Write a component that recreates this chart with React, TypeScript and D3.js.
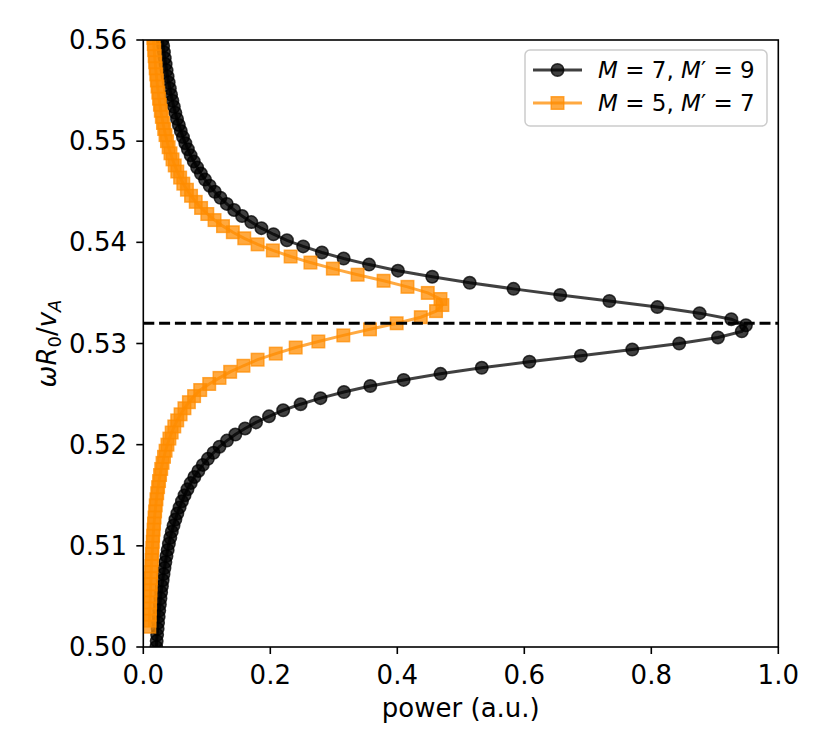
import React from "react";
import * as d3 from "d3";

// ---- data ----
const blackOmega = [
  0.5000,0.5006,0.5012,0.5018,0.5024,0.5030,0.5036,0.5042,0.5048,0.5054,
  0.5060,0.5066,0.5072,0.5078,0.5084,0.5090,0.5096,0.5102,0.5108,0.5114,
  0.5120,0.5126,0.5132,0.5138,0.5144,0.5150,0.5156,0.5162,0.5168,0.5174,
  0.5180,0.5186,0.5192,0.5198,0.5204,0.5210,0.5216,0.5222,0.5228,0.5234,
  0.5240,0.5246,0.5252,0.5258,0.5264,0.5270,0.5276,0.5282,0.5288,0.5294,
  0.5300,0.5306,0.5312,0.5318,0.5324,0.5330,0.5336,0.5342,0.5348,0.5354,
  0.5360,0.5366,0.5372,0.5378,0.5384,0.5390,0.5396,0.5402,0.5408,0.5414,
  0.5420,0.5426,0.5432,0.5438,0.5444,0.5450,0.5456,0.5462,0.5468,0.5474,
  0.5480,0.5486,0.5492,0.5498,0.5504,0.5510,0.5516,0.5522,0.5528,0.5534,
  0.5540,0.5546,0.5552,0.5558,0.5564,0.5570,0.5576,0.5582,0.5588,0.5594,
  0.5600,
];
const blackPower = [
  0.0205,0.0211,0.0218,0.0226,0.0233,0.0242,0.0251,0.0261,0.0270,0.0281,
  0.0293,0.0305,0.0318,0.0333,0.0348,0.0365,0.0384,0.0403,0.0425,0.0449,
  0.0476,0.0505,0.0536,0.0571,0.0609,0.0650,0.0696,0.0747,0.0804,0.0867,
  0.0937,0.1017,0.1106,0.1200,0.1318,0.1449,0.1602,0.1775,0.1980,0.2203,
  0.2478,0.2790,0.3160,0.3575,0.4100,0.4680,0.5330,0.6080,0.6890,0.7700,
  0.8440,0.9050,0.9425,0.9490,0.9260,0.8760,0.8095,0.7340,0.6565,0.5830,
  0.5140,0.4550,0.4010,0.3555,0.3155,0.2813,0.2518,0.2262,0.2050,0.1860,
  0.1700,0.1555,0.1430,0.1315,0.1215,0.1125,0.1045,0.0972,0.0907,0.0848,
  0.0795,0.0746,0.0702,0.0662,0.0625,0.0591,0.0560,0.0531,0.0505,0.0481,
  0.0458,0.0437,0.0418,0.0400,0.0383,0.0367,0.0352,0.0338,0.0325,0.0313,
  0.0302,
];
const orangeOmega = [
  0.5020,0.5026,0.5032,0.5038,0.5044,0.5050,0.5056,0.5062,0.5068,0.5074,
  0.5080,0.5086,0.5092,0.5098,0.5104,0.5110,0.5116,0.5122,0.5128,0.5134,
  0.5140,0.5146,0.5152,0.5158,0.5164,0.5170,0.5176,0.5182,0.5188,0.5194,
  0.5200,0.5206,0.5212,0.5218,0.5224,0.5230,0.5236,0.5242,0.5248,0.5254,
  0.5260,0.5266,0.5272,0.5278,0.5284,0.5290,0.5296,0.5302,0.5308,0.5314,
  0.5320,0.5326,0.5332,0.5338,0.5344,0.5350,0.5356,0.5362,0.5368,0.5374,
  0.5380,0.5386,0.5392,0.5398,0.5404,0.5410,0.5416,0.5422,0.5428,0.5434,
  0.5440,0.5446,0.5452,0.5458,0.5464,0.5470,0.5476,0.5482,0.5488,0.5494,
  0.5500,0.5506,0.5512,0.5518,0.5524,0.5530,0.5536,0.5542,0.5548,0.5554,
  0.5560,0.5566,0.5572,0.5578,0.5584,0.5590,0.5596,0.5602,
];
const orangePower = [
  0.0095,0.0098,0.0101,0.0104,0.0107,0.0110,0.0113,0.0117,0.0121,0.0125,
  0.0129,0.0133,0.0138,0.0143,0.0149,0.0155,0.0162,0.0169,0.0177,0.0186,
  0.0196,0.0207,0.0219,0.0233,0.0248,0.0264,0.0282,0.0303,0.0326,0.0351,
  0.0380,0.0411,0.0447,0.0488,0.0534,0.0587,0.0648,0.0718,0.0800,0.0896,
  0.1038,0.1200,0.1368,0.1577,0.1800,0.2086,0.2400,0.2757,0.3150,0.3570,
  0.3990,0.4370,0.4610,0.4710,0.4680,0.4480,0.4160,0.3784,0.3375,0.2985,
  0.2632,0.2320,0.2040,0.1800,0.1590,0.1410,0.1255,0.1122,0.1008,0.0910,
  0.0826,0.0752,0.0687,0.0630,0.0580,0.0535,0.0495,0.0460,0.0428,0.0399,
  0.0373,0.0350,0.0329,0.0310,0.0292,0.0276,0.0262,0.0248,0.0236,0.0224,
  0.0214,0.0204,0.0195,0.0187,0.0179,0.0172,0.0165,0.0159,
];
const xTicks = [0.0, 0.2, 0.4, 0.6, 0.8, 1.0];
const yTicks = [0.50, 0.51, 0.52, 0.53, 0.54, 0.55, 0.56];
const resonance = 0.532;

// ---- layout ----
const W = 830, H = 755;
const L = 143.3, R = 778.3, T = 40, B = 647;
const FONT = "DejaVu Sans, sans-serif";

export default function App() {
  const x = d3.scaleLinear().domain([0, 1]).range([L, R]);
  const y = d3.scaleLinear().domain([0.5, 0.56]).range([B, T]);

  const black = blackOmega.map((w, i) => [blackPower[i], w] as [number, number]);
  const orange = orangeOmega.map((w, i) => [orangePower[i], w] as [number, number]);
  const line = d3.line<[number, number]>().x(d => x(d[0])).y(d => y(d[1]));

  const blackCol = "#000000";
  const orangeCol = "#ff8c00";
  const alphaB = 0.75;
  const alphaO = 0.75;
  const ms = 14;
  const sw = 1.5;
  const inner = ms - sw;

  return (
    <svg width={W} height={H} style={{ position: "absolute", left: 0, top: 0, background: "#fff" }}
      fontFamily={FONT}>
      <defs>
        <clipPath id="plotclip">
          <rect x={L} y={T} width={R - L} height={B - T} />
        </clipPath>
      </defs>
      <rect x={0} y={0} width={W} height={H} fill="#fff" />
      <g clipPath="url(#plotclip)">
        <path d={line(black) || ""} fill="none" stroke={blackCol} strokeOpacity={alphaB} strokeWidth={3} />
        {black.map((d, i) => (
          <circle key={"b" + i} cx={x(d[0])} cy={y(d[1])} r={inner / 2}
            fill={blackCol} fillOpacity={alphaB} stroke={blackCol} strokeOpacity={alphaB} strokeWidth={sw} />
        ))}
        <path d={line(orange) || ""} fill="none" stroke={orangeCol} strokeOpacity={alphaO} strokeWidth={3} />
        {orange.map((d, i) => (
          <rect key={"o" + i} x={x(d[0]) - inner / 2} y={y(d[1]) - inner / 2}
            width={inner} height={inner}
            fill={orangeCol} fillOpacity={alphaO} stroke={orangeCol} strokeOpacity={alphaO} strokeWidth={sw} />
        ))}
        <line x1={L} x2={R} y1={y(resonance)} y2={y(resonance)} stroke="#000" strokeWidth={3}
          strokeDasharray="11,4.8" />
      </g>

      {/* frame */}
      <rect x={L} y={T} width={R - L} height={B - T} fill="none" stroke="#000" strokeWidth={1.6} />

      {/* x ticks */}
      {xTicks.map(t => (
        <g key={"xt" + t}>
          <line x1={x(t)} x2={x(t)} y1={B} y2={B + 7} stroke="#000" strokeWidth={1.6} />
          <text x={x(t)} y={684} textAnchor="middle" fontSize={26}>{t.toFixed(1)}</text>
        </g>
      ))}
      {/* y ticks */}
      {yTicks.map(t => (
        <g key={"yt" + t}>
          <line x1={L - 7} x2={L} y1={y(t)} y2={y(t)} stroke="#000" strokeWidth={1.6} />
          <text x={127} y={y(t)} textAnchor="end" dominantBaseline="central" fontSize={26}>{t.toFixed(2)}</text>
        </g>
      ))}

      {/* axis labels */}
      <text x={(L + R) / 2} y={717} textAnchor="middle" fontSize={26}>power (a.u.)</text>
      <text transform={`translate(56, ${(T + B) / 2}) rotate(-90)`} textAnchor="middle" fontSize={26}>
        <tspan fontStyle="italic">ω</tspan>
        <tspan fontStyle="italic">R</tspan>
        <tspan fontSize={18} dy={5}>0</tspan>
        <tspan dy={-5}>/</tspan>
        <tspan fontStyle="italic">v</tspan>
        <tspan fontStyle="italic" fontSize={18} dy={5}>A</tspan>
      </text>

      {/* legend */}
      <g>
        <rect x={525} y={50} width={242} height={76} rx={5} ry={5} fill="#fff" fillOpacity={0.8}
          stroke="#cccccc" strokeWidth={1.5} />
        <line x1={533} x2={582} y1={70} y2={70} stroke={blackCol} strokeOpacity={alphaB} strokeWidth={3} />
        <circle cx={557.5} cy={70} r={inner / 2} fill={blackCol} fillOpacity={alphaB}
          stroke={blackCol} strokeOpacity={alphaB} strokeWidth={sw} />
        <text x={598} y={70} dominantBaseline="central" fontSize={23}>
          <tspan fontStyle="italic">M</tspan> = 7, <tspan fontStyle="italic">M</tspan>′ = 9
        </text>
        <line x1={533} x2={582} y1={103} y2={103} stroke={orangeCol} strokeOpacity={alphaO} strokeWidth={3} />
        <rect x={557.5 - inner / 2} y={103 - inner / 2} width={inner} height={inner}
          fill={orangeCol} fillOpacity={alphaO} stroke={orangeCol} strokeOpacity={alphaO} strokeWidth={sw} />
        <text x={598} y={103} dominantBaseline="central" fontSize={23}>
          <tspan fontStyle="italic">M</tspan> = 5, <tspan fontStyle="italic">M</tspan>′ = 7
        </text>
      </g>
    </svg>
  );
}
